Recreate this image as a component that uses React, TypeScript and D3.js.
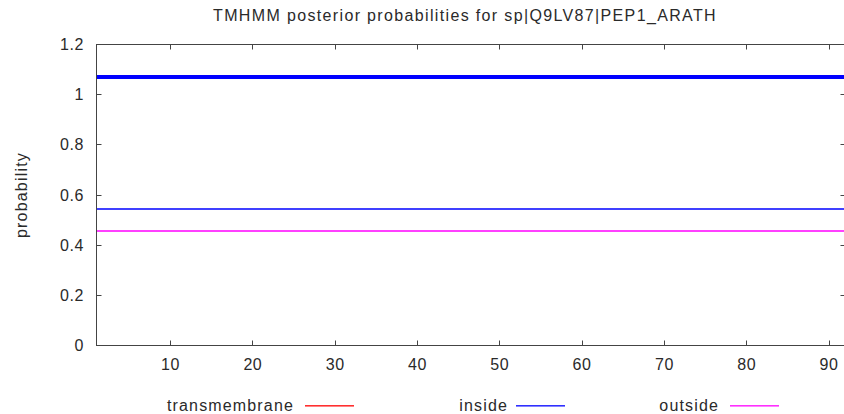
import React from "react";
import * as d3 from "d3";

const title = "TMHMM posterior probabilities for sp|Q9LV87|PEP1_ARATH";
const positions = [1, 92];
const insideProb = [0.545, 0.545];
const outsideProb = [0.455, 0.455];
const tmProb = [0, 0];
const topology = [{ label: "inside", start: 1, end: 92, level: 1.07 }];
const xTicks = [10, 20, 30, 40, 50, 60, 70, 80, 90];
const yTicks = [0, 0.2, 0.4, 0.6, 0.8, 1, 1.2];
const legendNames = ["transmembrane", "inside", "outside"];
const legendColors = ["#ff3030", "#3030ff", "#ff30ff"];

const W = 844, H = 414;
const L = 96.5, R = 845.5, T = 44.5, B = 345.5;
const font = "'Liberation Sans', Arial, sans-serif";
const txt = "#2a2a2a";
const ax = "#444";
const snap = (v: number) => Math.round(v - 0.5) + 0.5;

export default function App() {
  const x = d3.scaleLinear().domain([1, 92]).range([L, R]);
  const y = d3.scaleLinear().domain([0, 1.2]).range([B, T]);
  const line = (vals: number[], f: (v: number) => number) =>
    d3.line<number>().x((_, i) => x(positions[i])).y((v) => f(y(v)))(vals) || "";
  const legendX = [
    { tx: 294, lx: 305 },
    { tx: 508, lx: 516 },
    { tx: 719, lx: 730 },
  ];
  return (
    <div style={{ position: "absolute", left: 0, top: 0, width: W, height: H, overflow: "hidden", background: "#fff" }}>
      <svg width={W} height={H} style={{ display: "block" }}>
        <rect width={W} height={H} fill="#fff" />
        <text x={465} y={21} textAnchor="middle" fontFamily={font} fontSize={16} letterSpacing={1.35} fill={txt}>{title}</text>
        <text transform={`translate(27,${(T + B) / 2}) rotate(-90)`} textAnchor="middle" fontFamily={font} fontSize={16} letterSpacing={1.2} fill={txt}>probability</text>
        <path d={line(tmProb, snap)} stroke="#ff0000" strokeWidth={1} fill="none" />
        <path d={line(insideProb, Math.round)} stroke="#0000ff" strokeWidth={1.6} fill="none" />
        <path d={line(outsideProb, Math.round)} stroke="#ff00ff" strokeWidth={1.6} fill="none" />
        {topology.map((s, i) => (
          <line key={i} x1={x(s.start)} x2={x(s.end)} y1={Math.round(y(s.level))} y2={Math.round(y(s.level))} stroke="#0000ff" strokeWidth={4} />
        ))}
        <rect x={L} y={T} width={R - L} height={B - T} fill="none" stroke={ax} strokeWidth={1} />
        {yTicks.map((t) => (
          <g key={"y" + t}>
            <line x1={L} x2={L + 5} y1={snap(y(t))} y2={snap(y(t))} stroke={ax} />
            <line x1={R} x2={R - 5} y1={snap(y(t))} y2={snap(y(t))} stroke={ax} />
            <text x={84} y={y(t) + 5.5} textAnchor="end" fontFamily={font} fontSize={16} letterSpacing={0.6} fill={txt}>{String(t)}</text>
          </g>
        ))}
        {xTicks.map((t) => (
          <g key={"x" + t}>
            <line x1={snap(x(t))} x2={snap(x(t))} y1={B} y2={B - 5} stroke={ax} />
            <line x1={snap(x(t))} x2={snap(x(t))} y1={T} y2={T + 5} stroke={ax} />
            <text x={x(t)} y={369.5} textAnchor="middle" fontFamily={font} fontSize={16} letterSpacing={0.6} fill={txt}>{String(t)}</text>
          </g>
        ))}
        {legendNames.map((name, i) => (
          <g key={name}>
            <text x={legendX[i].tx} y={411} textAnchor="end" fontFamily={font} fontSize={16} letterSpacing={1.15} fill={txt}>{name}</text>
            <rect x={legendX[i].lx} y={405} width={49} height={1.6} fill={legendColors[i]} />
          </g>
        ))}
      </svg>
    </div>
  );
}
